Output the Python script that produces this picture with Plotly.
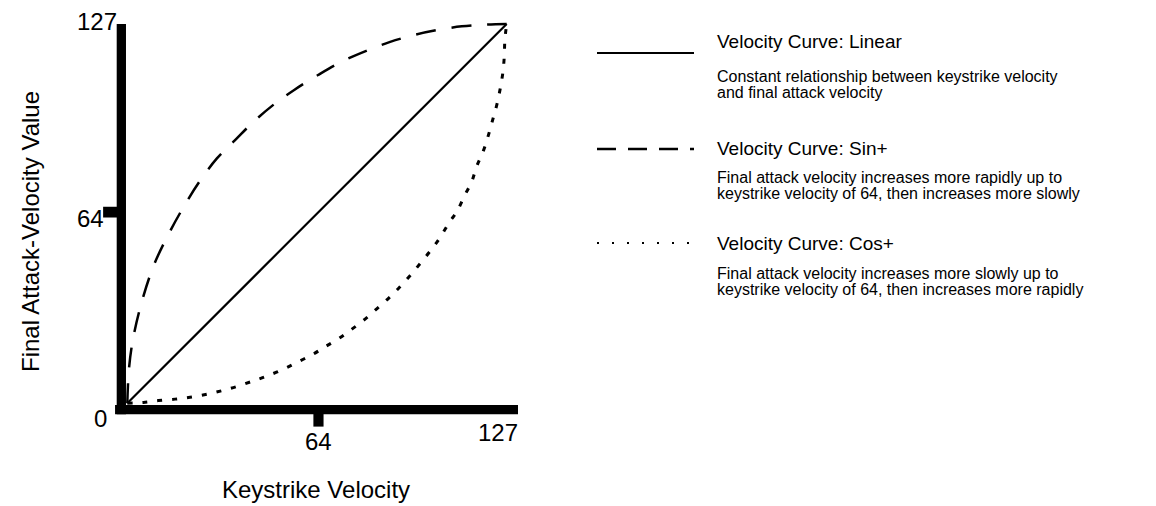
import plotly.graph_objects as go

# ---------------- data ----------------
linear_x = [0, 127]
linear_y = [0, 127]

sin_x = [0, 0.6, 2, 5, 9, 14, 19, 24, 30, 36, 42, 49, 56, 64, 72, 80, 88, 96, 104, 112, 120, 127]
sin_y = [0, 12, 22, 34.5, 46.5, 57, 66, 74, 82, 88, 94, 100, 105, 110, 114.5, 118, 121, 123.3,
         125, 126.2, 126.8, 127]

cos_x = [0, 5.4, 10.4, 16.0, 21.0, 26.6, 31.6, 36.6, 42.2, 46.7, 52.2, 57.2, 62.3, 66.2,
         71.0, 75.3, 79.6, 83.7, 87.7, 91.3, 94.9, 98.3, 101.9, 104.9, 107.8, 110.3, 113.0,
         115.3, 117.0, 119.2, 120.9, 122.3, 123.7, 124.8, 125.7, 126.2, 126.4, 127]
cos_y = [0, 0.3, 0.9, 1.4, 2.0, 3.0, 4.2, 5.6, 7.5, 9.1, 11.4, 13.9, 16.5, 18.9,
         21.8, 24.9, 28.2, 31.8, 35.4, 39.0, 43.0, 47.1, 51.6, 55.8, 60.6, 64.1, 69.7,
         74.2, 79.4, 84.5, 89.8, 94.8, 99.9, 105.1, 110.5, 116.0, 121.6, 127]

x_tick_vals = [64, 127]
x_tick_text = ["64", "127"]
y_tick_vals = [64, 127]
y_tick_text = ["64", "127"]
origin_label = "0"

x_title = "Keystrike Velocity"
y_title = "Final Attack-Velocity Value"

legend_titles = ["Velocity Curve: Linear", "Velocity Curve: Sin+", "Velocity Curve: Cos+"]
legend_desc = [
    ["Constant relationship between keystrike velocity", "and final attack velocity"],
    ["Final attack velocity increases more rapidly up to",
     "keystrike velocity of 64, then increases more slowly"],
    ["Final attack velocity increases more slowly up to",
     "keystrike velocity of 64, then increases more rapidly"],
]

# ---------------- layout helpers ----------------
W, H = 1156, 506
PX_PER_UNIT = 2.987
ORIGIN_PX = (127.3, 403.3)
x0 = -ORIGIN_PX[0] / PX_PER_UNIT
x1 = x0 + W / PX_PER_UNIT
y1 = ORIGIN_PX[1] / PX_PER_UNIT
y0 = y1 - H / PX_PER_UNIT

def pxx(p):
    return p / W

def pxy(p):
    return 1 - p / H

FONT = "Liberation Sans"
TICK_SIZE = 24

fig = go.Figure()
fig.add_trace(go.Scatter(x=linear_x, y=linear_y, mode="lines",
                         line=dict(color="black", width=2.2), showlegend=False, hoverinfo="skip"))
fig.add_trace(go.Scatter(x=sin_x, y=sin_y, mode="lines",
                         line=dict(color="black", width=2.5, dash="20px,16px", shape="spline"),
                         showlegend=False, hoverinfo="skip"))
fig.add_trace(go.Scatter(x=cos_x, y=cos_y, mode="lines",
                         line=dict(color="black", width=3, dash="5px,10px", shape="spline"),
                         showlegend=False, hoverinfo="skip"))

shapes = []
# axis bars
shapes.append(dict(type="rect", xref="x", yref="y", x0=-3.55, x1=-0.44, y0=-3.7, y1=127,
                   fillcolor="black", line=dict(width=0), layer="below"))
shapes.append(dict(type="rect", xref="x", yref="y", x0=-4.1, x1=130.8, y0=-3.68, y1=-0.57,
                   fillcolor="black", line=dict(width=0), layer="below"))
# tick marks (at 64)
shapes.append(dict(type="rect", xref="x", yref="y", x0=x_tick_vals[0] - 1.7, x1=x_tick_vals[0] + 1.7,
                   y0=-7.8, y1=-1, fillcolor="black", line=dict(width=0)))
shapes.append(dict(type="rect", xref="x", yref="y", x0=-8.1, x1=-3, y0=y_tick_vals[0] - 1.8,
                   y1=y_tick_vals[0] + 1.8, fillcolor="black", line=dict(width=0)))

# legend samples
sample_y = [53, 149, 243]
sample_style = [dict(width=2.2, dash="solid"), dict(width=2.5, dash="19px,12px"),
                dict(width=2, dash="2px,13px")]
for sy, st in zip(sample_y, sample_style):
    shapes.append(dict(type="line", xref="paper", yref="paper", x0=pxx(597), x1=pxx(694),
                       y0=pxy(sy), y1=pxy(sy), line=dict(color="black", **st)))

def ann(**kw):
    base = dict(showarrow=False, xanchor="center", yanchor="middle")
    base.update(kw)
    return base

tf = dict(size=TICK_SIZE, family=FONT, color="black")
annotations = []
# tick labels
annotations.append(ann(x=0, y=0, xref="x", yref="y", text=origin_label,
                       xshift=-27, yshift=-15, font=tf))
annotations.append(ann(x=x_tick_vals[0], y=0, xref="x", yref="y", text=x_tick_text[0],
                       yshift=-38, font=tf))
annotations.append(ann(x=x_tick_vals[1], y=0, xref="x", yref="y", text=x_tick_text[1],
                       xshift=-9, yshift=-29, font=tf))
annotations.append(ann(x=0, y=y_tick_vals[0], xref="x", yref="y", text=y_tick_text[0],
                       xanchor="right", xshift=-21, yshift=-6, font=tf))
annotations.append(ann(x=0, y=y_tick_vals[1], xref="x", yref="y", text=y_tick_text[1],
                       xanchor="right", xshift=-8, yshift=2, font=tf))
# axis titles
annotations.append(ann(x=pxx(316), y=pxy(489), xref="paper", yref="paper", text=x_title,
                       font=dict(size=24, family=FONT, color="black")))
annotations.append(ann(x=pxx(30), y=pxy(232), xref="paper", yref="paper", text=y_title, textangle=-90,
                       font=dict(size=24, family=FONT, color="black")))
# legend texts
title_y = [42, 148, 243]
desc_y = [(76, 92), (178, 193), (273, 289)]
for t, ty, d, dy in zip(legend_titles, title_y, legend_desc, desc_y):
    annotations.append(ann(x=pxx(715), y=pxy(ty), xref="paper", yref="paper", text=t,
                           xanchor="left", font=dict(size=19, family=FONT, color="black")))
    for line, ly in zip(d, dy):
        annotations.append(ann(x=pxx(715), y=pxy(ly), xref="paper", yref="paper", text=line,
                               xanchor="left", font=dict(size=16, family=FONT, color="black")))

fig.update_layout(
    width=W, height=H,
    margin=dict(l=0, r=0, t=0, b=0, pad=0),
    paper_bgcolor="white", plot_bgcolor="white",
    xaxis=dict(range=[x0, x1], visible=False, fixedrange=True),
    yaxis=dict(range=[y0, y1], visible=False, fixedrange=True),
    shapes=shapes, annotations=annotations,
    showlegend=False,
)
fig.write_html("out.html", config={"displayModeBar": False},
               post_script="document.body.style.margin='0px';document.body.style.overflow='hidden';")
